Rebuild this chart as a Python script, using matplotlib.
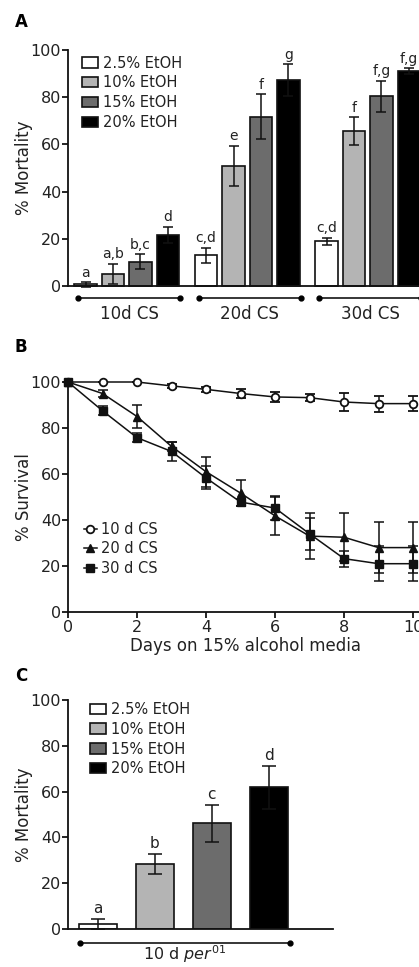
import matplotlib
matplotlib.use("Agg")
import matplotlib.pyplot as plt
from matplotlib.lines import Line2D
import numpy as np

plt.rcParams['font.family'] = ['DejaVu Sans']
plt.rcParams['mathtext.fontset'] = 'dejavusans'

TXT = '#222222'

# ---- data, panel A ----
groups_a = ['10d CS', '20d CS', '30d CS']
series = ['2.5% EtOH', '10% EtOH', '15% EtOH', '20% EtOH']
mort_a = [
    [0.7, 5.2, 10.2, 21.8],
    [13.0, 50.8, 71.8, 87.3],
    [19.0, 65.6, 80.4, 91.0],
]
err_a = [
    [1.0, 4.3, 3.2, 3.4],
    [3.3, 8.6, 9.5, 6.6],
    [1.5, 5.8, 6.6, 1.2],
]
letters_a = [
    ['a', 'a,b', 'b,c', 'd'],
    ['c,d', 'e', 'f', 'g'],
    ['c,d', 'f', 'f,g', 'f,g'],
]

# ---- data, panel B ----
days = [0, 1, 2, 3, 4, 5, 6, 7, 8, 9, 10]
surv_10 = [100, 100, 100, 98.3, 96.8, 95.0, 93.5, 93.2, 91.3, 90.6, 90.6]
serr_10 = [0, 0, 0, 1.0, 1.0, 2.0, 2.0, 1.5, 4.0, 3.5, 3.3]
surv_20 = [100, 95, 85, 72, 61, 51.7, 41.8, 33, 32.5, 28, 28]
serr_20 = [0, 1.5, 5, 2.0, 6.5, 5.5, 8.5, 10, 10.5, 11, 11]
surv_30 = [100, 87.5, 75.8, 69.8, 58.3, 47.8, 45.2, 34, 23.2, 21, 21]
serr_30 = [0, 2.0, 2.0, 4.0, 5.0, 1.5, 5.0, 7.0, 3.5, 7.5, 7.5]

# ---- data, panel C ----
mort_c = [2.0, 28.3, 46.2, 61.8]
err_c = [2.2, 4.4, 8.0, 9.4]
letters_c = ['a', 'b', 'c', 'd']

colors = ['white', '#b4b4b4', '#6c6c6c', 'black']

fig = plt.figure(figsize=(4.19, 9.67), dpi=100)
W, H = 419.0, 967.0


def axes_px(left, right, top, bottom):
    return fig.add_axes([left / W, 1 - bottom / H, (right - left) / W, (bottom - top) / H])


def style_axes(ax):
    for s in ['top', 'right']:
        ax.spines[s].set_visible(False)
    for s in ['left', 'bottom']:
        ax.spines[s].set_linewidth(1.3)
        ax.spines[s].set_color('#111111')
    ax.tick_params(axis='y', direction='out', length=4, width=1.2, labelsize=11.5,
                   labelcolor=TXT, pad=1)


def bracket(ax, x0, x1, y):
    ax.plot([x0, x1], [y, y], color='black', lw=1.1, clip_on=False)
    ax.plot([x0, x1], [y, y], 'o', color='black', ms=3.5, clip_on=False)


def place_ylabel(ax, text, width_px):
    ax.set_ylabel(text, fontsize=12, color=TXT)
    ax.yaxis.set_label_coords(-35.0 / width_px, 0.5)


leg_kw = dict(frameon=False, fontsize=10.5, handlelength=1.1, handleheight=0.7,
              handletextpad=0.35, labelspacing=0.33, borderaxespad=0.2, labelcolor=TXT)

# ================= Panel A =================
ax = axes_px(68, 428, 50, 286)
style_axes(ax)
step_a = 0.228
width_a = 0.187
offsets = (np.arange(4) - 1.5) * step_a
for g in range(len(groups_a)):
    for i in range(4):
        x = g + offsets[i]
        ax.bar(x, mort_a[g][i], width_a, color=colors[i], edgecolor='#111111', lw=1.2,
               label=series[i] if g == 0 else None, clip_on=False)
        ax.errorbar(x, mort_a[g][i], yerr=err_a[g][i], color='#111111', lw=1.1,
                    capsize=3.5, capthick=1.1, clip_on=False)
        ax.text(x, mort_a[g][i] + err_a[g][i] + 1.0, letters_a[g][i], ha='center',
                va='bottom', fontsize=10, color=TXT)
    bracket(ax, g + offsets[0] - 0.06, g + offsets[3] + 0.1, -5.1)
    ax.text(g + 0.02, -11.8, groups_a[g], ha='center', va='center', fontsize=12, color=TXT)
ax.set_xlim(-0.4876, 2.5)
ax.set_ylim(0, 100)
ax.set_yticks([0, 20, 40, 60, 80, 100])
ax.set_xticks([])
place_ylabel(ax, '% Mortality', 360.0)
ax.legend(loc='upper left', bbox_to_anchor=(0.015, 1.013), **leg_kw)
fig.text(15 / W, 1 - 22 / H, 'A', fontsize=12, fontweight='bold', va='center')

# ================= Panel B =================
ax = axes_px(68, 423.4, 382, 612)
style_axes(ax)
ax.tick_params(axis='x', direction='out', length=4, width=1.2, labelsize=11.5,
               labelcolor=TXT, pad=2)
kw = dict(color='#111111', lw=1.1, capsize=3.5, capthick=1.1, ms=5.5, clip_on=False,
          mec='#111111')
ax.errorbar(days, surv_10, yerr=serr_10, marker='o', mfc='white', mew=1.3, **kw)
ax.errorbar(days, surv_20, yerr=serr_20, marker='^', mfc='#111111', **kw)
ax.errorbar(days, surv_30, yerr=serr_30, marker='s', mfc='#111111', **kw)
ax.set_xlim(0, 10.3)
ax.set_ylim(0, 100)
ax.set_xticks([0, 2, 4, 6, 8, 10])
ax.set_yticks([0, 20, 40, 60, 80, 100])
ax.set_xlabel('Days on 15% alcohol media', fontsize=12, color=TXT, labelpad=1)
place_ylabel(ax, '% Survival', 355.4)
handles = [
    Line2D([], [], color='#111111', lw=1.1, marker='o', mfc='white', mec='#111111',
           mew=1.3, ms=5.5),
    Line2D([], [], color='#111111', lw=1.1, marker='^', mfc='#111111', mec='#111111',
           ms=5.5),
    Line2D([], [], color='#111111', lw=1.1, marker='s', mfc='#111111', mec='#111111',
           ms=5.5),
]
ax.legend(handles, ['10 d CS', '20 d CS', '30 d CS'], loc='lower left',
          bbox_to_anchor=(0.02, 0.12), frameon=False, fontsize=10.5, handlelength=0.9,
          handletextpad=0.3, labelspacing=0.3, borderaxespad=0.2, labelcolor=TXT)
fig.text(15 / W, 1 - 347 / H, 'B', fontsize=12, fontweight='bold', va='center')

# ================= Panel C =================
ax = axes_px(68, 333, 700, 929)
style_axes(ax)
xc = np.arange(4)
for i in range(4):
    ax.bar(xc[i], mort_c[i], 0.667, color=colors[i], edgecolor='#111111', lw=1.2,
           label=series[i])
    ax.errorbar(xc[i], mort_c[i], yerr=err_c[i], color='#111111', lw=1.1, capsize=5,
                capthick=1.1)
    ax.text(xc[i], mort_c[i] + err_c[i] + 1.3, letters_c[i], ha='center', va='bottom',
            fontsize=11, color=TXT)
bracket(ax, -0.31, 3.37, -6.1)
ax.text(1.52, -11.0, r'10 d $\mathit{per^{01}}$', ha='center', va='center', fontsize=11.5,
        color=TXT)
ax.set_xlim(-0.518, 4.13)
ax.set_ylim(0, 100)
ax.set_yticks([0, 20, 40, 60, 80, 100])
ax.set_xticks([])
place_ylabel(ax, '% Mortality', 265.0)
ax.legend(loc='upper left', bbox_to_anchor=(0.05, 1.03), **leg_kw)
fig.text(15 / W, 1 - 676 / H, 'C', fontsize=12, fontweight='bold', va='center')

fig.savefig('out.png', dpi=100)
